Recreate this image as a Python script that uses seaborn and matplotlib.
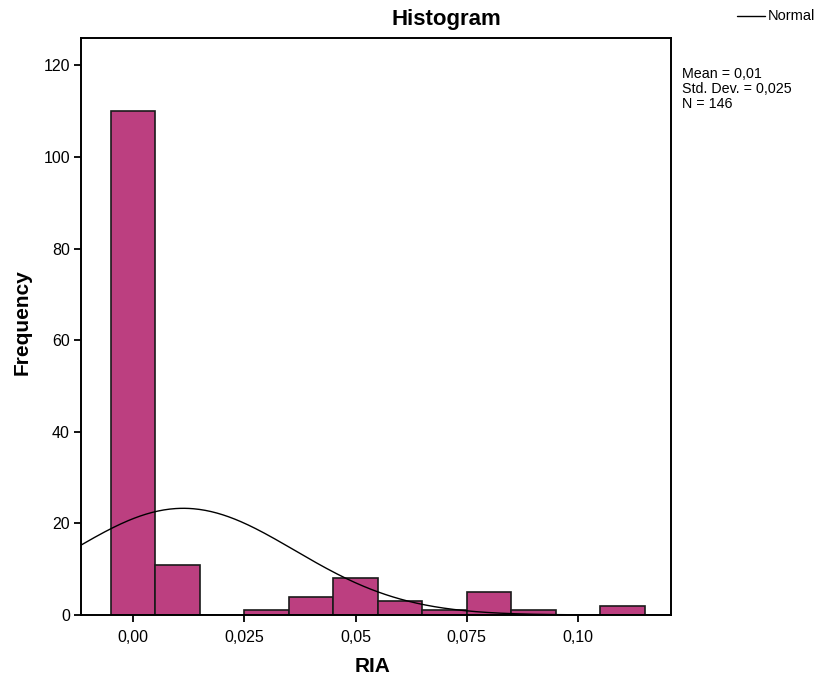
import numpy as np
import pandas as pd
import matplotlib
matplotlib.use("Agg")
import matplotlib.pyplot as plt
from matplotlib.lines import Line2D
import seaborn as sns

# ── Data ──────────────────────────────────────────────────────────────────────
bin_centers = [0.00, 0.01, 0.02, 0.03, 0.04, 0.05, 0.06, 0.07, 0.08, 0.09, 0.10, 0.11]
counts      = [110, 11, 0, 1, 4, 8, 3, 1, 5, 1, 0, 2]
bin_width   = 0.01

mean_val, sd_val, n_val = 0.0113, 0.025, 146
x_ticks       = [0.0, 0.025, 0.05, 0.075, 0.10]
x_tick_labels = ["0,00", "0,025", "0,05", "0,075", "0,10"]
y_ticks       = [0, 20, 40, 60, 80, 100, 120]

df = pd.DataFrame({"RIA": bin_centers, "count": counts})
edges = [round(c - bin_width / 2, 4) for c in bin_centers] + [round(bin_centers[-1] + bin_width / 2, 4)]

# ── Style ─────────────────────────────────────────────────────────────────────
sns.set_style("white")
plt.rcParams["font.family"] = ["Liberation Sans", "DejaVu Sans"]
plt.rcParams["text.color"] = "black"

fig = plt.figure(figsize=(8.19, 6.77), dpi=100)
ax = fig.add_axes([81 / 819, 62 / 677, 590 / 819, 577 / 677])

sns.histplot(data=df, x="RIA", weights="count", bins=edges, ax=ax,
             color="#BC3F80", edgecolor="#1a1a1a", linewidth=1.2, alpha=1.0)

# normal curve scaled to counts
xs = np.linspace(-0.0117, 0.1209, 400)
ys = n_val * bin_width / (sd_val * np.sqrt(2 * np.pi)) * np.exp(-0.5 * ((xs - mean_val) / sd_val) ** 2)
ax.plot(xs, ys, color="black", linewidth=1.0, zorder=5)

ax.set_xlim(-0.0117, 0.1209)
ax.set_ylim(0, 126)
ax.set_xticks(x_ticks)
ax.set_xticklabels(x_tick_labels)
ax.set_yticks(y_ticks)
ax.tick_params(axis="both", direction="out", length=5, width=1.3, labelsize=11.5,
               colors="black", bottom=True, left=True)
ax.tick_params(axis="y", pad=3)
ax.tick_params(axis="x", pad=6)
for sp in ax.spines.values():
    sp.set_color("black")
    sp.set_linewidth(1.4)

ax.set_xlabel("RIA", fontsize=15, fontweight="bold", color="black")
ax.set_ylabel("Frequency", fontsize=15, fontweight="bold", color="black")
ax.xaxis.set_label_coords((373 - 81) / 590, -(667 - 615) / 577)
ax.yaxis.set_label_coords(-(81 - 22) / 590, (615 - 322) / 577)
ax.xaxis.label.set_va("center")
ax.yaxis.label.set_va("center")

fig.text(446 / 819, 1 - 20 / 677, "Histogram", ha="center", va="center",
         fontsize=16, fontweight="bold")

fig.text(682 / 819, 1 - 89 / 677, "Mean = 0,01\nStd. Dev. = 0,025\nN = 146",
         ha="left", va="center", fontsize=10.3, linespacing=1.12)

fig.add_artist(Line2D([737 / 819, 765 / 819], [1 - 16 / 677, 1 - 16 / 677],
                      color="black", linewidth=1.0, transform=fig.transFigure))
fig.text(768 / 819, 1 - 16 / 677, "Normal", ha="left", va="center", fontsize=10.5)

fig.savefig("out.png", dpi=100)
